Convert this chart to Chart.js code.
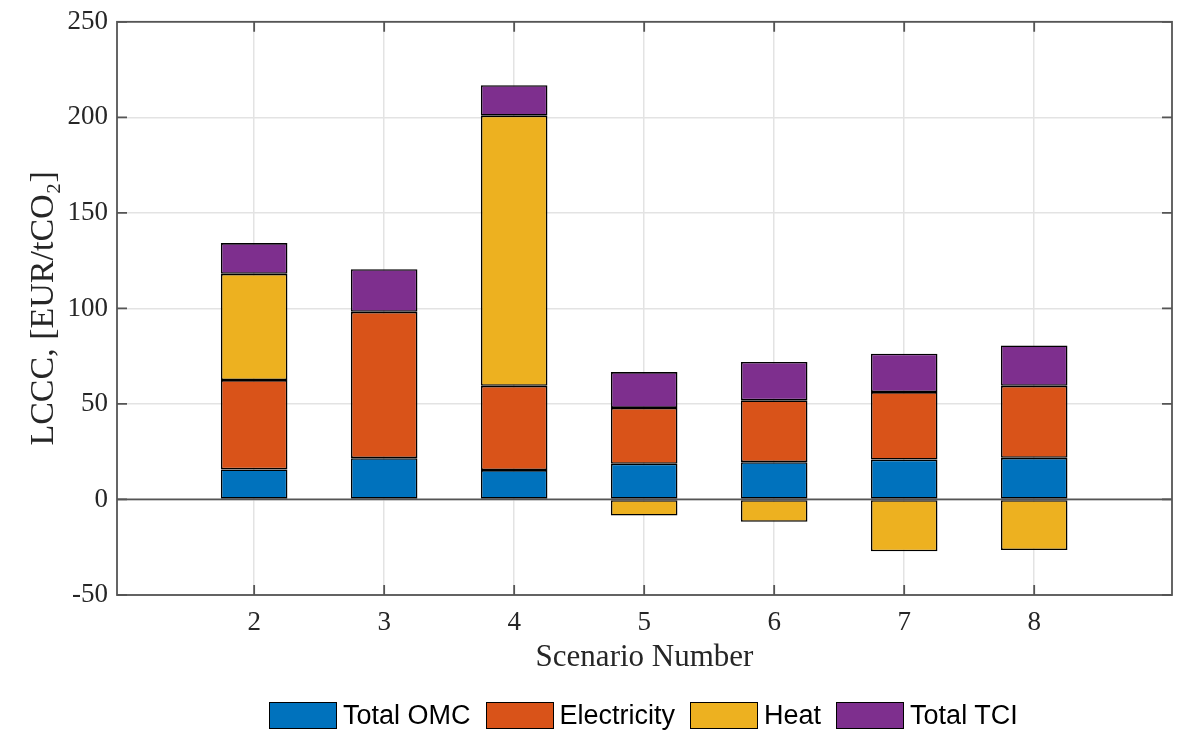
<!DOCTYPE html>
<html><head><meta charset="utf-8">
<script src="https://cdn.jsdelivr.net/npm/chart.js@4/dist/chart.umd.min.js"></script>
<style>
html,body{margin:0;padding:0;background:#fff;}
#wrap{position:relative;width:1177px;height:733px;}
#legend{position:absolute;left:269px;top:701px;display:flex;align-items:center;font-family:"Liberation Sans",Arial,sans-serif;font-size:27px;color:#000;line-height:28px;}
.item{display:flex;align-items:center;margin-right:15px;}
.box{width:66px;height:25px;border:1.5px solid #000;margin-right:6px;box-sizing:content-box;}
</style></head><body>
<div id="wrap"><canvas id="c" width="1177" height="733"></canvas><div id="legend"></div></div>
<script>
const scenarios = [2, 3, 4, 5, 6, 7, 8];
const totalOMC = [15.7, 21.6, 15.4, 18.7, 19.5, 20.9, 21.8];
const electricity = [46.8, 76.6, 44.1, 29.2, 32.4, 35.3, 37.7];
const heat = [55.6, 0, 141.4, -8.4, -11.7, -27.1, -26.5];
const totalTCI = [16.1, 22.3, 15.9, 18.8, 20.1, 20.1, 21.1];
const seriesNames = ['Total OMC', 'Electricity', 'Heat', 'Total TCI'];
const seriesColors = ['#0072BD', '#D95319', '#EDB120', '#7E2F8E'];
const yTicks = [-50, 0, 50, 100, 150, 200, 250];
const xTitle = 'Scenario Number';
const yTitle = 'LCCC, [EUR/tCO\u2082]';

const seriesValues = [totalOMC, electricity, heat, totalTCI];
const datasets = seriesValues.map((vals, k) => ({
  label: seriesNames[k],
  data: scenarios.map((s, i) => ({x: s, y: vals[i]})),
  backgroundColor: seriesColors[k],
  borderColor: '#000',
  borderWidth: 1.6,
  borderSkipped: false
}));

const axisColor = '#262626';
const framePlugin = {
  id: 'frame',
  afterDatasetsDraw(chart) {
    const {ctx, chartArea: a, scales: {x, y}} = chart;
    ctx.save();
    ctx.strokeStyle = '#555';
    ctx.lineWidth = 1.8;
    const y0 = y.getPixelForValue(0);
    ctx.beginPath(); ctx.moveTo(a.left, y0); ctx.lineTo(a.right, y0); ctx.stroke();
    const L = 10;
    ctx.beginPath();
    y.ticks.forEach(t => {
      const p = y.getPixelForValue(t.value);
      ctx.moveTo(a.left, p); ctx.lineTo(a.left + L, p);
      ctx.moveTo(a.right, p); ctx.lineTo(a.right - L, p);
    });
    x.ticks.forEach(t => {
      const p = x.getPixelForValue(t.value);
      ctx.moveTo(p, a.bottom); ctx.lineTo(p, a.bottom - L);
      ctx.moveTo(p, a.top); ctx.lineTo(p, a.top + L);
    });
    ctx.stroke();
    ctx.strokeRect(a.left, a.top, a.right - a.left, a.bottom - a.top);
    ctx.restore();
  }
};

new Chart(document.getElementById('c'), {
  type: 'bar',
  data: {datasets},
  plugins: [framePlugin],
  options: {
    responsive: false,
    animation: false,
    layout: {padding: {left: 24, right: 5, top: 10, bottom: 57}},
    plugins: {legend: {display: false}, tooltip: {enabled: false}},
    datasets: {bar: {barPercentage: 0.512, categoryPercentage: 1}},
    scales: {
      x: {
        type: 'linear', min: 0.945, max: 9.06, stacked: true, offset: false,
        afterBuildTicks: s => { s.ticks = scenarios.map(v => ({value: v})); },
        grid: {color: '#e3e3e3', lineWidth: 1.5, drawTicks: false, offset: false},
        border: {display: false},
        ticks: {font: {family: 'Liberation Serif', size: 27}, color: axisColor, padding: 12, maxRotation: 0, autoSkip: false},
        title: {display: true, text: xTitle, font: {family: 'Liberation Serif', size: 31}, color: axisColor, padding: {top: 0, bottom: 0}},
        afterFit: s => { s.height = 81; }
      },
      y: {
        min: -50, max: 250, stacked: true,
        afterBuildTicks: s => { s.ticks = yTicks.map(v => ({value: v})); },
        grid: {color: '#e3e3e3', lineWidth: 1.5, drawTicks: false},
        border: {display: false},
        ticks: {font: {family: 'Liberation Serif', size: 27, lineHeight: 0.95}, color: axisColor, padding: 9},
        title: {display: true, text: yTitle, font: {family: 'Liberation Serif', size: 34}, color: axisColor, padding: {top: 0, bottom: 0}},
        afterFit: s => { s.width = 117 - 24; }
      }
    }
  }
});

const leg = document.getElementById('legend');
seriesNames.forEach((n, k) => {
  const it = document.createElement('div'); it.className = 'item';
  const b = document.createElement('div'); b.className = 'box'; b.style.background = seriesColors[k];
  const t = document.createElement('span'); t.textContent = n;
  it.appendChild(b); it.appendChild(t); leg.appendChild(it);
});
</script>
</body></html>
